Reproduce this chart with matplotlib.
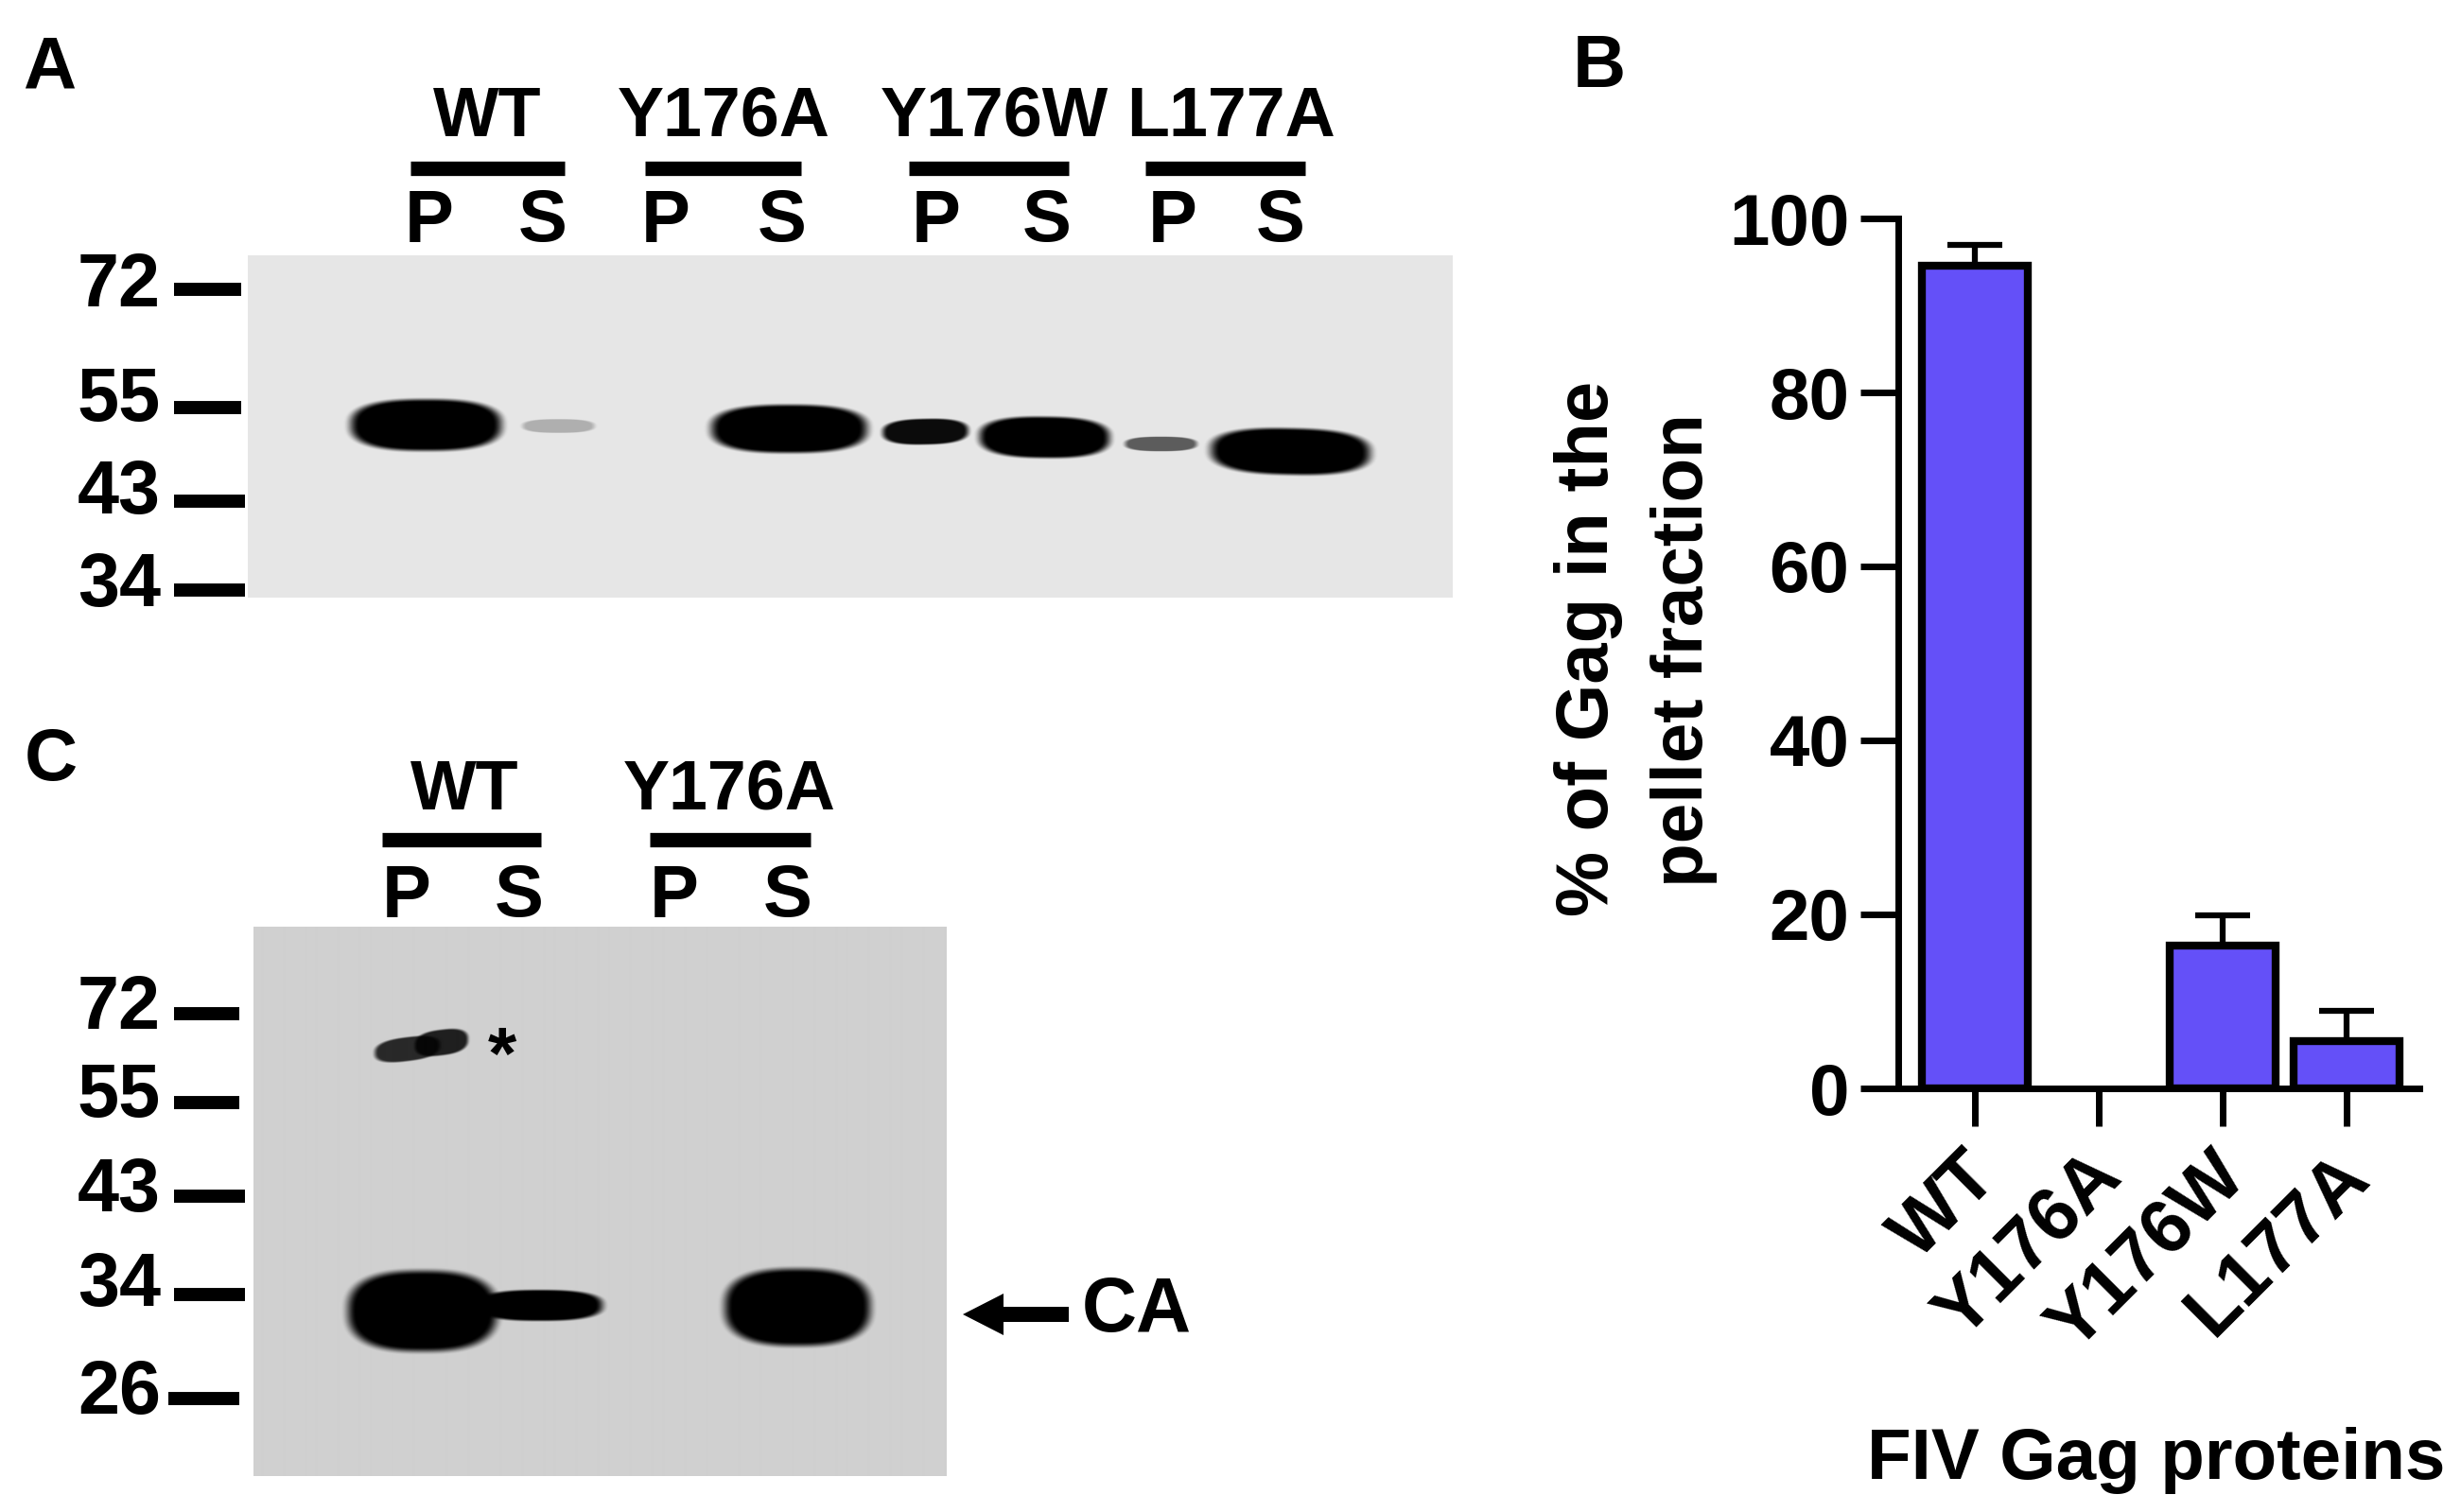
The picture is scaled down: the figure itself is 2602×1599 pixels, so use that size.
import numpy as np
import matplotlib
matplotlib.use("Agg")
import matplotlib.pyplot as plt
from matplotlib.transforms import ScaledTranslation

plt.rcParams['font.family'] = ['Liberation Sans', 'DejaVu Sans']
plt.rcParams['font.weight'] = 'bold'

W, H = 2602, 1599

## DATA
gag_proteins = ["WT", "Y176A", "Y176W", "L177A"]
pellet_pct = [94.6, 0, 16.4, 5.4]
pellet_err = [2.4, 0, 3.5, 3.5]
pct_ticks = [0, 20, 40, 60, 80, 100]

ladder_a = ["72", "55", "43", "34"]
ladder_c = ["72", "55", "43", "34", "26"]
groups_c = ["WT", "Y176A"]
fractions = ["P", "S"]

# darkness of each band on the blots, 0 to 1
darkness_a = [1.0, 0.24, 1.0, 0.95, 1.0, 0.6, 1.0]
darkness_c = [0.8, 0.85, 1.0, 1.0, 1.0]


def pixel_axes(x0, y0, x1, y1):
    ax = fig.add_axes([x0 / W, 1 - y1 / H, (x1 - x0) / W, (y1 - y0) / H])
    return ax


def gel(x0, y0, x1, y1, grey, bands, darkness):
    # the blot is a picture: soft dark blobs on a flat grey
    xx, yy = np.meshgrid(np.arange(x0, x1), np.arange(y0, y1))
    img = np.full(xx.shape, grey, dtype=float)
    for (cx, cy, w, h, tilt), d in zip(bands, darkness):
        yt = yy - cy + tilt * (xx - cx)
        r = ((np.abs(xx - cx) / (w / 2)) ** 2.6 + (np.abs(yt) / (h / 2)) ** 2.6) ** (1 / 2.6)
        soft = np.clip((1 - r) / 0.2, 0, 1)
        soft = soft * soft * (3 - 2 * soft)
        img = img * (1 - d * soft)
    ax = pixel_axes(x0, y0, x1, y1)
    ax.imshow(img, cmap='gray', vmin=0, vmax=1, aspect='auto', interpolation='bilinear')
    ax.axis('off')


def ladder(labels, label_y, dash_y, dash_x):
    for lab, ly, dy, (d0, d1) in zip(labels, label_y, dash_y, dash_x):
        page.text(170, ly, lab, ha='right', va='center', fontsize=57)
        page.plot([d0, d1], [dy, dy], color='black', lw=10, solid_capstyle='butt')


def header(name, x, y, bar, bar_y, lanes, lane_y):
    page.text(x, y, name, ha='center', va='center', fontsize=53)
    page.plot(bar, [bar_y, bar_y], color='black', lw=11, solid_capstyle='butt')
    for f, lx in zip(fractions, lanes):
        page.text(lx, lane_y, f, ha='center', va='center', fontsize=56)


fig = plt.figure(figsize=(W / 100, H / 100), dpi=100, facecolor='white')

## GELS
gel(262, 270, 1536, 632, 0.90,
    [(450, 449, 176, 60, 0), (590, 450, 84, 16, 0), (834, 453, 182, 56, 0),
     (978, 456, 100, 30, 0.02), (1104, 462, 152, 48, -0.01),
     (1227, 469, 84, 17, 0), (1364, 477, 186, 54, -0.02)],
    darkness_a)
gel(268, 980, 1000, 1561, 0.815,
    [(430, 1109, 76, 28, 0.12), (466, 1102, 62, 30, 0.12), (446, 1386, 174, 94, 0),
     (570, 1380, 146, 36, 0), (842, 1382, 170, 90, 0)],
    darkness_c)

## PAGE LAYER (labels, ladders, headers)
page = fig.add_axes([0, 0, 1, 1], facecolor='none')
page.set_xlim(0, W)
page.set_ylim(H, 0)
page.axis('off')

page.text(52, 73, "A", ha='center', va='center', fontsize=56)
page.text(54, 805, "C", ha='center', va='center', fontsize=56)
page.text(1691, 72, "B", ha='center', va='center', fontsize=56)

ladder(ladder_a, [304, 425, 522, 620], [306, 431, 530, 624],
       [(184, 255), (184, 255), (184, 259), (184, 259)])
ladder(ladder_c, [1067, 1160, 1261, 1361, 1474], [1072, 1166, 1265, 1369, 1479],
       [(184, 253), (184, 253), (184, 259), (184, 259), (178, 253)])

header("WT", 515, 124, [434, 597], 178, [454, 574], 235)
header("Y176A", 765, 124, [682, 847], 178, [704, 827], 235)
header("Y176W", 1051, 124, [961, 1130], 178, [990, 1107], 235)
header("L177A", 1301, 124, [1211, 1380], 178, [1240, 1354], 235)

header(groups_c[0], 491, 836, [404, 572], 888, [430, 549], 949)
header(groups_c[1], 771, 836, [687, 857], 888, [713, 833], 949)

page.text(531, 1120, "*", ha='center', va='center', fontsize=56)
page.arrow(1130, 1390, -112, 0, width=16, head_width=44, head_length=43,
           length_includes_head=True, color='black', lw=0)
page.text(1202, 1387, "CA", ha='center', va='center', fontsize=58)

## BAR CHART
ax = pixel_axes(2007, 231, 2558, 1151)
pos = np.arange(len(gag_proteins))
bars = ax.bar(pos, pellet_pct, width=0.85, color='#6450F8', edgecolor='black', linewidth=6)
bars[1].set_linewidth(0)
keep = [0, 2, 3]
ax.errorbar(pos[keep], np.array(pellet_pct)[keep], yerr=[np.zeros(3), np.array(pellet_err)[keep]],
            fmt='none', ecolor='black', elinewidth=4.5, capsize=21, capthick=4.5, zorder=1)
ax.set_xlim((2007 - 2088) / 131, (2558 - 2088) / 131)
ax.set_ylim(0, 100)
ax.set_facecolor('none')
ax.spines['top'].set_visible(False)
ax.spines['right'].set_visible(False)
ax.spines['left'].set_linewidth(5)
ax.spines['bottom'].set_linewidth(5)
ax.set_yticks(pct_ticks)
ax.set_xticks(pos)
ax.set_xticklabels(gag_proteins, rotation=45, ha='right', rotation_mode='anchor')
ax.tick_params(axis='both', length=29, width=5, labelsize=55)
ax.tick_params(axis='x', pad=6, labelsize=57)
ax.tick_params(axis='y', pad=8)
# tick labels sit a bit left of the ticks
shift = ScaledTranslation(-14 / 100, -6 / 100, fig.dpi_scale_trans)
for t in ax.get_xticklabels():
    t.set_transform(t.get_transform() + shift)

page.text(1679, 686, "% of Gag in the", rotation=90, ha='center', va='center', fontsize=56)
page.text(1781, 688, "pellet fraction", rotation=90, ha='center', va='center', fontsize=55)
page.text(2280, 1545, "FIV Gag proteins", ha='center', va='center', fontsize=55)

fig.savefig("out.png", dpi=100)
